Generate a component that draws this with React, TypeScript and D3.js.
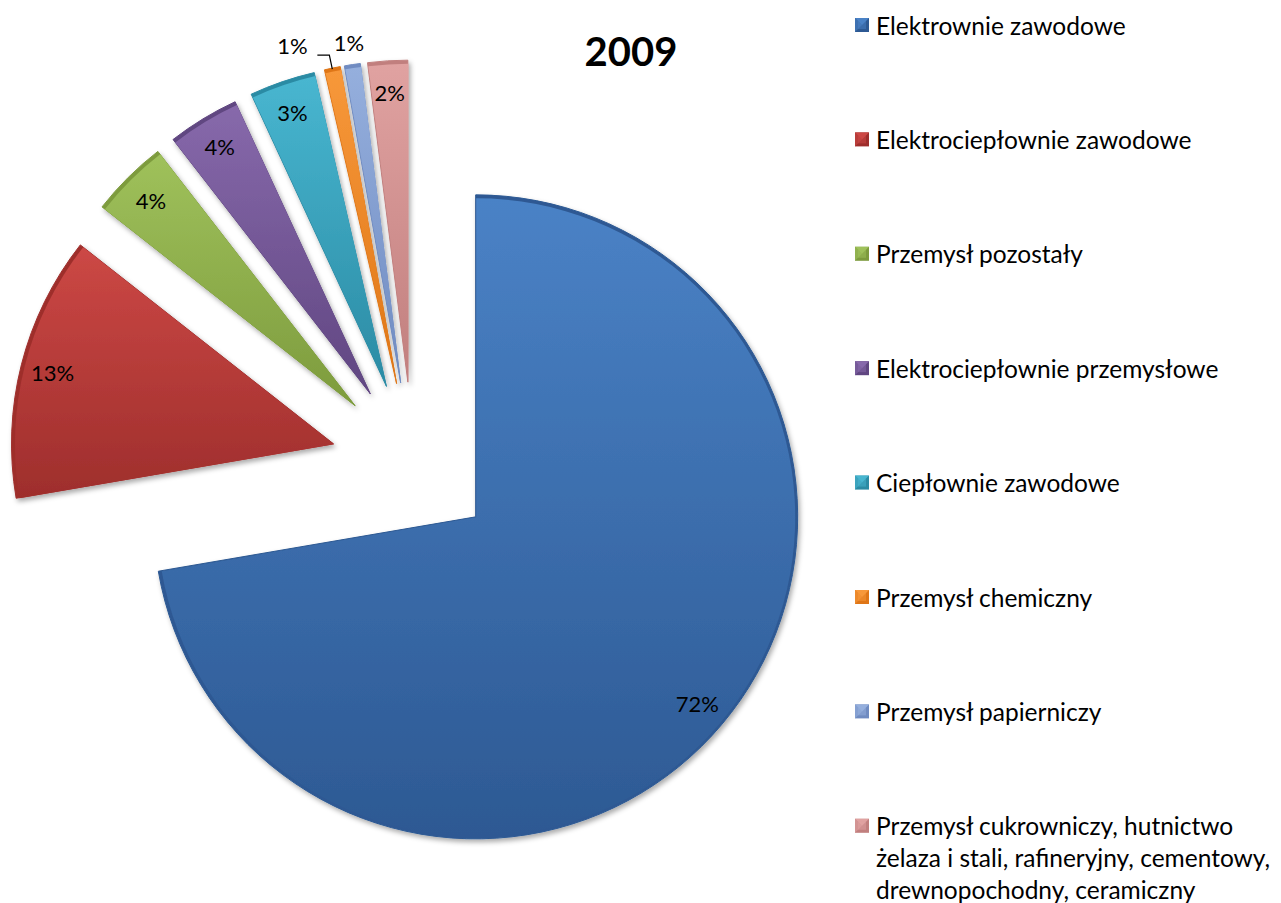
import React from 'react';
import * as d3 from 'd3';

const categories = [
  'Elektrownie zawodowe',
  'Elektrociepłownie zawodowe',
  'Przemysł pozostały',
  'Elektrociepłownie przemysłowe',
  'Ciepłownie zawodowe',
  'Przemysł chemiczny',
  'Przemysł papierniczy',
  'Przemysł cukrowniczy, hutnictwo żelaza i stali, rafineryjny, cementowy, drewnopochodny, ceramiczny',
];
const legendLines = [
  ['Elektrownie zawodowe'],
  ['Elektrociepłownie zawodowe'],
  ['Przemysł pozostały'],
  ['Elektrociepłownie przemysłowe'],
  ['Ciepłownie zawodowe'],
  ['Przemysł chemiczny'],
  ['Przemysł papierniczy'],
  ['Przemysł cukrowniczy, hutnictwo', 'żelaza i stali, rafineryjny, cementowy,', 'drewnopochodny, ceramiczny'],
];
const values = [72.3, 13.3, 3.9, 3.6, 3.3, 0.8, 0.8, 2.0];
const labels = ['72%', '13%', '4%', '4%', '3%', '1%', '1%', '2%'];
const colorsTop = ['#4a82c6', '#cc4845', '#9fc15b', '#8769ab', '#48b6d0', '#f7983a', '#95afdd', '#e0a2a1'];
const colorsBottom = ['#2d5993', '#9e2e2c', '#7d9b3d', '#604681', '#2b8ba4', '#df7617', '#6f8bc1', '#c17f7e'];
const title = '2009';

const CX = 413;
const CY = 464;
const R = 322;
const EXPLODE = 82;

export default function App() {
  const pie = d3.pie<number>().sort(null).value((d) => d)(values);
  const arc = d3.arc<d3.PieArcDatum<number>>().innerRadius(0).outerRadius(R);
  const arcInner = d3.arc<d3.PieArcDatum<number>>().innerRadius(0).outerRadius(R - 3);
  const font = 'Lato, "Open Sans", sans-serif';

  const slices = pie.map((p, i) => {
    const mid = (p.startAngle + p.endAngle) / 2;
    const ox = CX + EXPLODE * Math.sin(mid);
    const oy = CY - EXPLODE * Math.cos(mid);
    let la = mid;
    let lr = 0.9 * R;
    if (i === 5) {
      la = mid - (5.6 * Math.PI) / 180;
      lr = 1.1 * R;
    } else if (i === 6) {
      lr = 1.07 * R;
    }
    const lx = ox + lr * Math.sin(la);
    const ly = oy - lr * Math.cos(la);
    return { p, i, mid, ox, oy, lx, ly };
  });

  const legendY0 = 25;
  const legendStep = 114.4;

  return (
    <svg width={1281} height={903} style={{ position: 'absolute', left: 0, top: 0, display: 'block' }}>
      <defs>
        {colorsTop.map((c, i) => (
          <linearGradient key={i} id={`g${i}`} x1="0" y1="0" x2="0" y2="1">
            <stop offset="0%" stopColor={c} />
            <stop offset="100%" stopColor={colorsBottom[i]} />
          </linearGradient>
        ))}
        <filter id="sh" x="-20%" y="-20%" width="140%" height="140%">
          <feDropShadow dx="2" dy="3" stdDeviation="2.5" floodColor="#000" floodOpacity="0.33" />
        </filter>
      </defs>
      <rect width={1281} height={903} fill="#fff" />
      {slices.map((s) => (
        <g key={s.i} transform={`translate(${s.ox},${s.oy})`} filter="url(#sh)">
          <path d={arc(s.p) || ''} fill={colorsBottom[s.i]} stroke={colorsBottom[s.i]} strokeWidth={1} strokeLinejoin="round" />
          <path d={arcInner(s.p) || ''} fill={`url(#g${s.i})`} transform="translate(0.5,0.5)" />
        </g>
      ))}
      {(() => {
        const s = slices[5];
        const ex = s.ox + R * Math.sin(s.mid);
        const ey = s.oy - R * Math.cos(s.mid);
        const x0 = s.lx + 25;
        return <path d={`M${x0},${s.ly + 10}H${x0 + 12}L${ex},${ey + 1}`} fill="none" stroke="#000" strokeWidth={1.2} />;
      })()}
      {slices.map((s) => (
        <text
          key={s.i}
          x={s.lx}
          y={s.ly}
          textAnchor="middle"
          dominantBaseline="central"
          fontFamily={font}
          fontSize={22}
          fill="#000"
        >
          {labels[s.i]}
        </text>
      ))}
      <text x={631} y={51} textAnchor="middle" dominantBaseline="central" fontFamily={font} fontWeight="bold" fontSize={40}>
        {title}
      </text>
      {categories.map((c, i) => {
        const y = legendY0 + i * legendStep;
        const x = 855;
        const s = 14;
        return (
          <g key={i}>
            <rect x={x} y={y - s / 2} width={s} height={s} fill={colorsBottom[i]} />
            <path d={`M${x},${y - s / 2}H${x + s}L${x + s / 2},${y}Z`} fill={colorsTop[i]} />
            <path d={`M${x},${y - s / 2}L${x + s / 2},${y}L${x},${y + s / 2}Z`} fill={colorsTop[i]} opacity={0.6} />
            <rect x={x + 3} y={y - s / 2 + 3} width={s - 6} height={s - 6} fill={colorsTop[i]} opacity={0.5} />
            {legendLines[i].map((line, j) => (
              <text
                key={j}
                x={876}
                y={y + j * 32}
                dominantBaseline="central"
                fontFamily={font}
                fontSize={24.5}
                fill="#000"
              >
                {line}
              </text>
            ))}
          </g>
        );
      })}
    </svg>
  );
}
